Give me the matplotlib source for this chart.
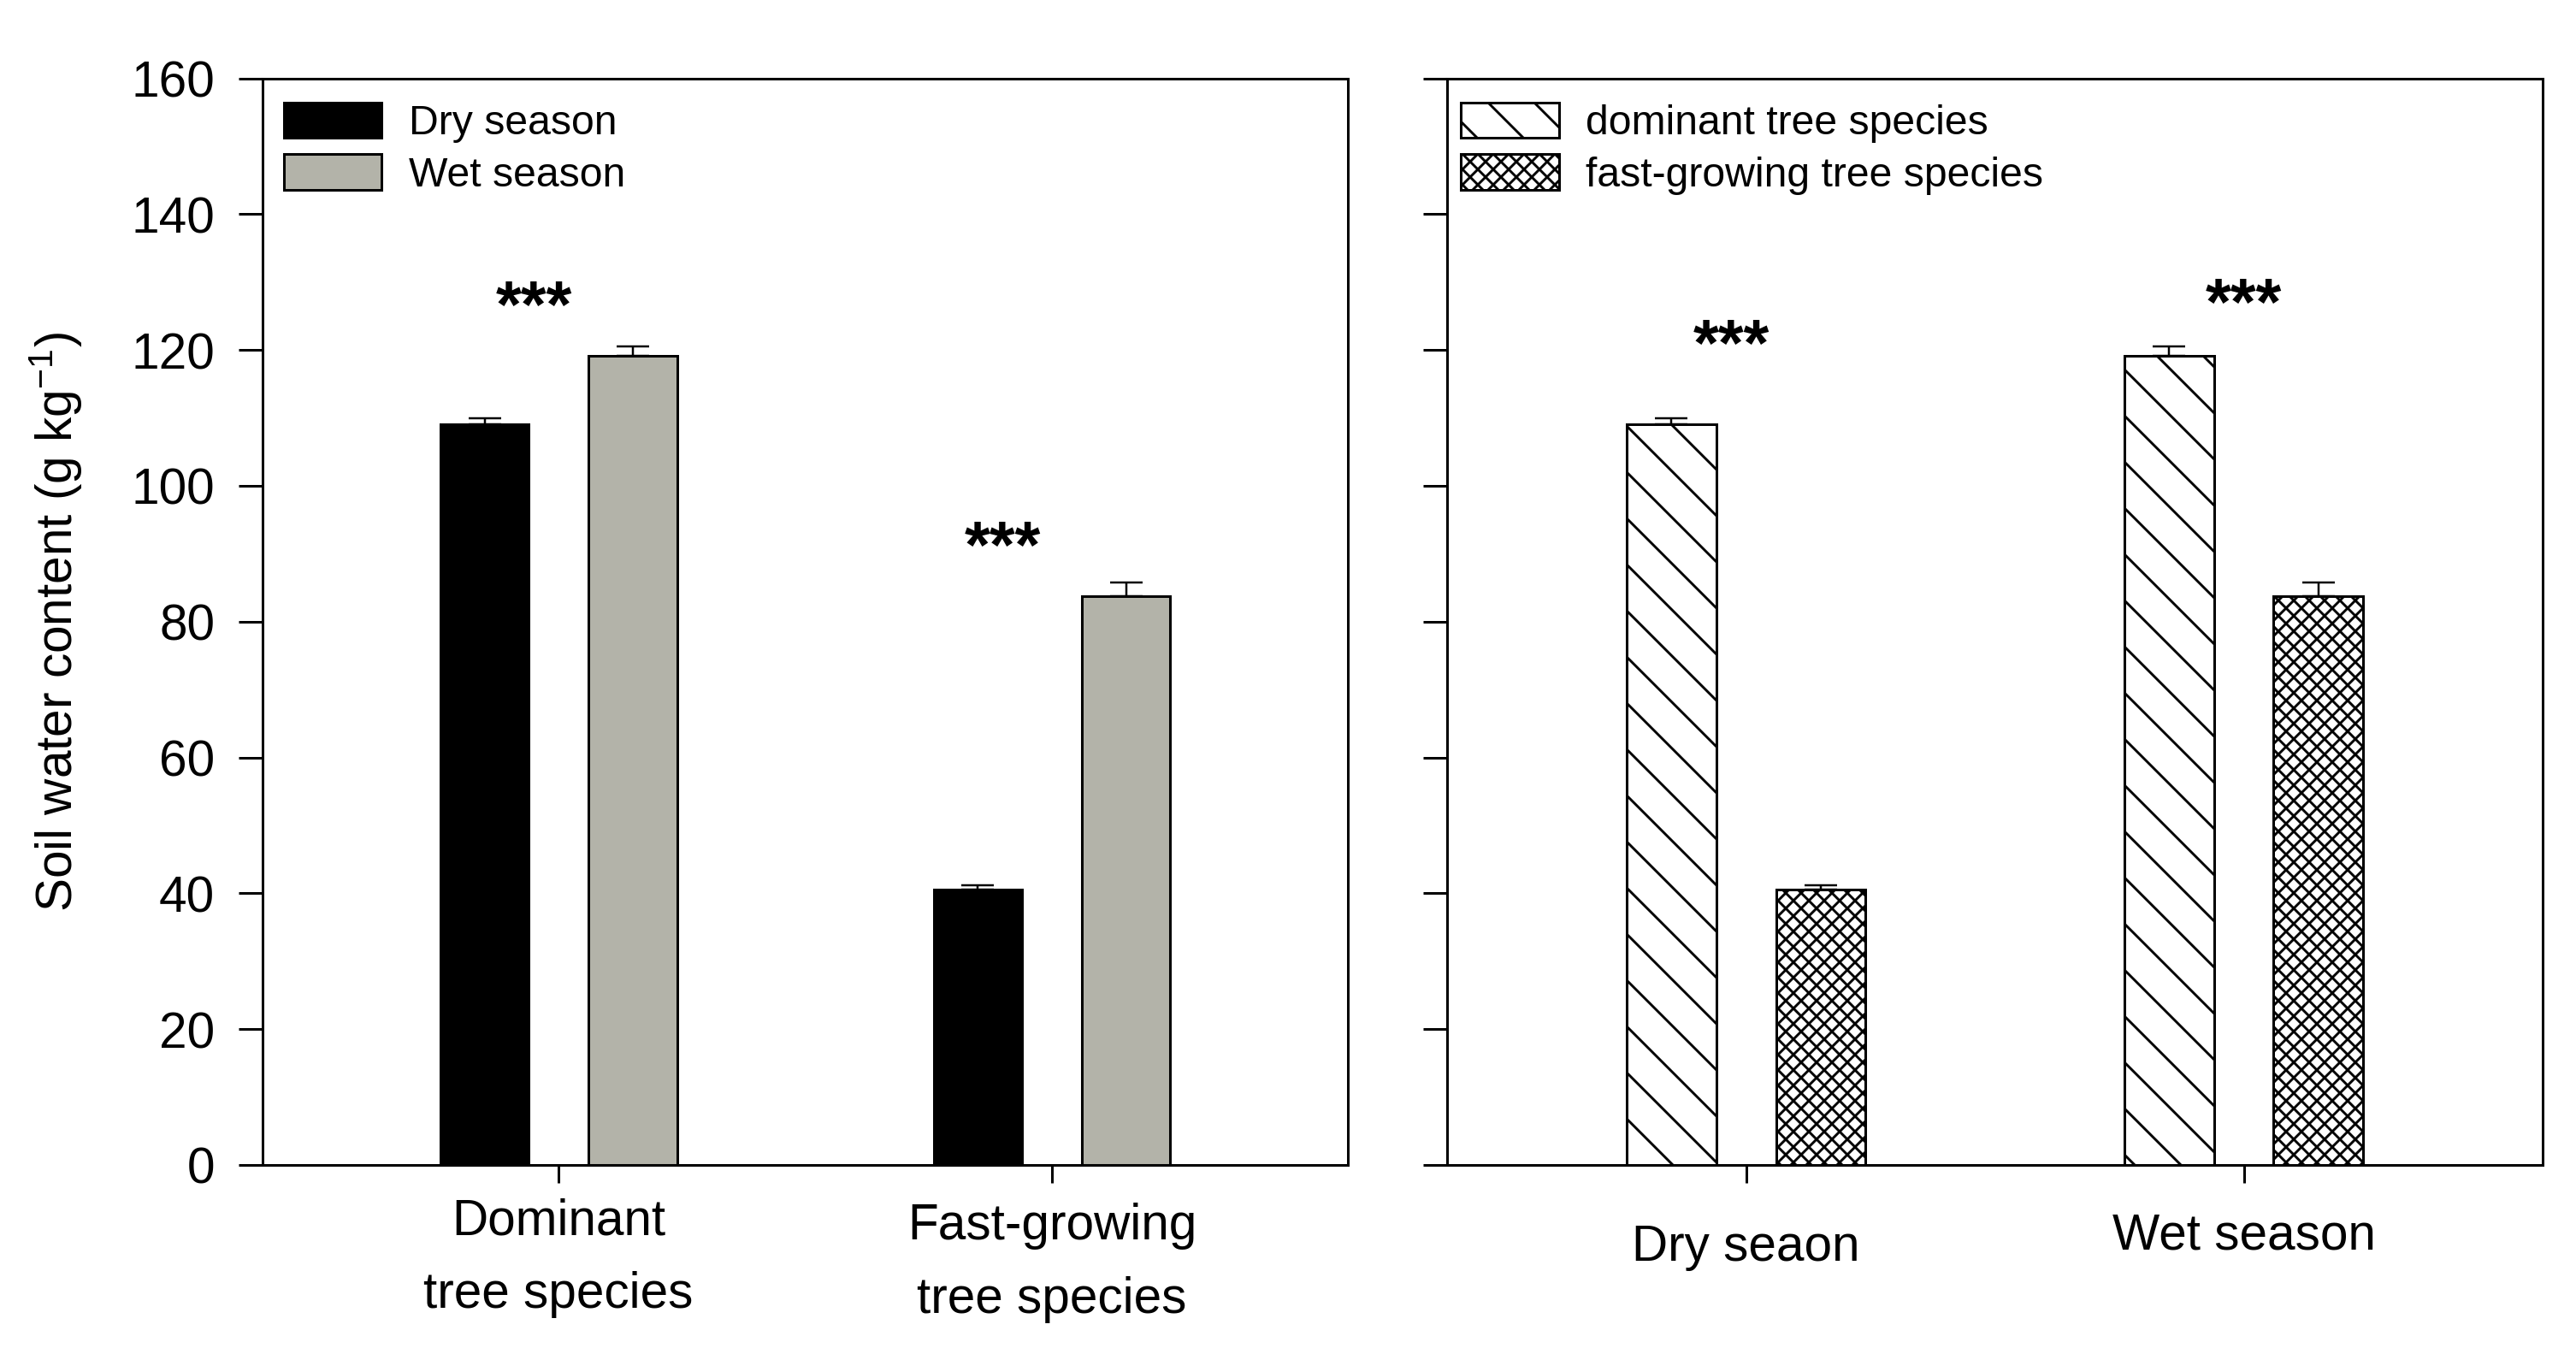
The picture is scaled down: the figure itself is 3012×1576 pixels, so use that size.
import numpy as np
import matplotlib
matplotlib.use('Agg')
import matplotlib.pyplot as plt
from matplotlib.transforms import ScaledTranslation

plt.rcParams['font.family'] = ['Liberation Sans', 'DejaVu Sans']
plt.rcParams['mathtext.fontset'] = 'custom'
plt.rcParams['mathtext.rm'] = 'Liberation Sans'
plt.rcParams['mathtext.it'] = 'Liberation Sans:italic'
plt.rcParams['hatch.linewidth'] = 0.65
plt.rcParams['axes.linewidth'] = 0.67

# data
species = ['Dominant\ntree species', 'Fast-growing\ntree species']
seasons = ['Dry seaon', 'Wet season']
dominant_vals = [109.0, 119.2]   # dry, wet
dominant_err = [1.0, 1.3]
fast_vals = [40.5, 83.8]         # dry, wet
fast_err = [0.7, 1.9]

# same numbers grouped by season for the left panel
dry_vals = [dominant_vals[0], fast_vals[0]]
dry_err = [dominant_err[0], fast_err[0]]
wet_vals = [dominant_vals[1], fast_vals[1]]
wet_err = [dominant_err[1], fast_err[1]]

# significance marks (x, y)
stars_left = [(-0.05, 126.0), (0.9, 90.5)]
stars_right = [(-0.03, 120.3), (1.0, 126.3)]

DPI = 324
fig = plt.figure(figsize=(3012.5 / DPI, 1576.5 / DPI), dpi=DPI)
ax1 = fig.add_axes([0.1019, 0.1358, 0.4213, 0.8058])
ax2 = fig.add_axes([0.5618, 0.1358, 0.4250, 0.8058])

x = np.arange(2)
w = 0.18
off = 0.15
grey = '#b3b3a9'
lw = 0.67

# left panel
ax1.bar(x - off, dry_vals, w, color='black', edgecolor='black', linewidth=lw, label='Dry season')
ax1.bar(x + off, wet_vals, w, color=grey, edgecolor='black', linewidth=lw, label='Wet season')
ax1.errorbar(x - off, dry_vals, yerr=[np.zeros(2), dry_err], fmt='none', ecolor='black',
             elinewidth=0.55, capsize=4.2, capthick=0.55)
ax1.errorbar(x + off, wet_vals, yerr=[np.zeros(2), wet_err], fmt='none', ecolor='black',
             elinewidth=0.55, capsize=4.2, capthick=0.55)

# right panel
ax2.bar(x - off, dominant_vals, w, facecolor='white', edgecolor='black', linewidth=lw,
        hatch='\\\\', label='dominant tree species')
ax2.bar(x + off, fast_vals, w, facecolor='white', edgecolor='black', linewidth=lw,
        hatch='xxxxxx', label='fast-growing tree species')
ax2.errorbar(x - off, dominant_vals, yerr=[np.zeros(2), dominant_err], fmt='none', ecolor='black',
             elinewidth=0.55, capsize=4.2, capthick=0.55)
ax2.errorbar(x + off, fast_vals, yerr=[np.zeros(2), fast_err], fmt='none', ecolor='black',
             elinewidth=0.55, capsize=4.2, capthick=0.55)

for ax in (ax1, ax2):
    ax.set_xlim(-0.6, 1.6)
    ax.set_ylim(0, 160)
    ax.set_yticks(np.arange(0, 161, 20))
    ax.set_xticks(x)
    ax.tick_params(axis='y', direction='out', length=6.2, width=lw, labelsize=13, pad=6.2)
    ax.tick_params(axis='x', direction='out', length=4.7, width=lw, labelsize=13, pad=5)
    for s in ax.spines.values():
        s.set_linewidth(lw)

ax1.set_xticklabels(species, linespacing=1.72)
ax2.set_xticklabels(seasons)
ax2.tick_params(axis='y', labelleft=False)

# labels in the original sit at slightly different heights
for lab, dy in zip(ax1.get_xticklabels(), [-6, 0]):
    lab.set_transform(lab.get_transform() + ScaledTranslation(0, -dy / DPI, fig.dpi_scale_trans))
for lab, dy in zip(ax2.get_xticklabels(), [25, 11]):
    lab.set_transform(lab.get_transform() + ScaledTranslation(0, -dy / DPI, fig.dpi_scale_trans))

ax1.set_ylabel('Soil water content (g kg$^{-1}$)', fontsize=13)
ax1.yaxis.set_label_coords(-0.164, 0.5)

for sx, sy in stars_left:
    ax1.text(sx, sy, '***', ha='center', va='center', fontsize=17, fontweight='bold')
for sx, sy in stars_right:
    ax2.text(sx, sy, '***', ha='center', va='center', fontsize=17, fontweight='bold')

leg_kw = dict(loc='upper left', frameon=False, fontsize=10.7, handlelength=2.375,
              handleheight=0.96, handletextpad=0.65, labelspacing=0.28,
              borderpad=0, borderaxespad=0)
ax1.legend(bbox_to_anchor=(0.0197, 0.978), **leg_kw)
ax2.legend(bbox_to_anchor=(0.0125, 0.978), **leg_kw)

fig.savefig('out.png', dpi=DPI)
